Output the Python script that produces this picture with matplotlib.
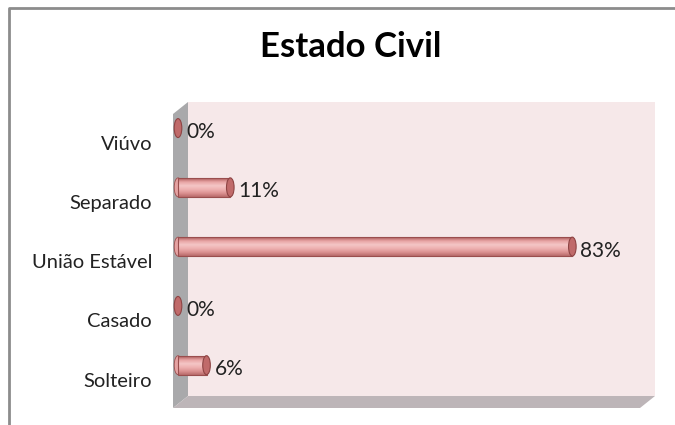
import numpy as np
import matplotlib.pyplot as plt
from matplotlib.patches import Rectangle, Ellipse, Polygon
from matplotlib.colors import LinearSegmentedColormap
from matplotlib.transforms import ScaledTranslation

plt.rcParams['font.family'] = ['Lato', 'DejaVu Sans']

categorias = ["Solteiro", "Casado", "União Estável", "Separado", "Viúvo"]
percentuais = [6, 0, 83, 11, 0]

W, H = 675, 425
fig = plt.figure(figsize=(W / 100, H / 100), dpi=100)
fig.patch.set_facecolor("white")

# background layer in pixel units for the frame and the 3D walls
bg = fig.add_axes([0, 0, 1, 1])
bg.set_xlim(0, W)
bg.set_ylim(H, 0)
bg.axis("off")

# outer chart border (runs off the right and bottom edges)
bg.plot([9, 9, W + 5], [H + 5, 8, 8], color="#8c8c8c", lw=2, solid_capstyle="butt")

wall_l, wall_r, wall_t, wall_b = 188, 655, 102, 396
dx, dy = 15, 12
bg.add_patch(Rectangle((wall_l, wall_t), wall_r - wall_l, wall_b - wall_t,
                       facecolor="#f6e8e9", edgecolor="none"))
bg.add_patch(Polygon([(wall_l - dx, wall_t + dy), (wall_l, wall_t),
                      (wall_l, wall_b), (wall_l - dx, wall_b + dy)],
                     facecolor="#a9a9ab", edgecolor="none"))
bg.add_patch(Polygon([(wall_l - dx, wall_b + dy), (wall_l, wall_b),
                      (wall_r, wall_b), (wall_r - dx, wall_b + dy)],
                     facecolor="#bdb5b8", edgecolor="none"))

bg.text(351, 47, "Estado Civil", ha="center", va="center",
        fontsize=25, fontweight="bold", color="black")

# plotting axes sits on the back wall; zero lies a little in front of it
ax = fig.add_axes([wall_l / W, 1 - wall_b / H, (wall_r - wall_l) / W, (wall_b - wall_t) / H])
ax.set_xlim(2.1, 100.4)
ax.set_ylim(-0.52, 4.44)
ax.axis("off")
ax.patch.set_alpha(0)

bar_h = 0.32
cap_w = 1.6
cyl = LinearSegmentedColormap.from_list(
    "cyl", ["#b86a6a", "#dc9292", "#eeb1b1", "#f4c6c6", "#e8a4a4", "#ad5c5c"])

for i, v in enumerate(percentuais):
    if v > 0:
        y0 = i - bar_h / 2
        img = ax.imshow(np.linspace(0, 1, 64).reshape(-1, 1), cmap=cyl, aspect="auto",
                        extent=[0, v, y0, y0 + bar_h], origin="lower", zorder=3,
                        interpolation="bilinear")
        body = Rectangle((0, y0), v, bar_h, facecolor="none",
                         edgecolor="#9a4e4e", lw=0.8, zorder=4, clip_on=False)
        ax.add_patch(body)
        img.set_clip_path(body)
        ax.add_patch(Ellipse((0, i), cap_w, bar_h, facecolor="#e5a2a2",
                             edgecolor="#9a4e4e", lw=0.6, zorder=2, clip_on=False))
    ax.add_patch(Ellipse((v, i), cap_w, bar_h, facecolor="#c06a6a",
                         edgecolor="#8e4444", lw=0.8, zorder=5, clip_on=False))
    off = ScaledTranslation(8 / 100, -4 / 100, fig.dpi_scale_trans)
    ax.text(v, i, f"{v}%", ha="left", va="center", fontsize=15,
            color="#222222", transform=ax.transData + off, zorder=6)

# category labels sit on the front plane, shifted down-left from the bars
lab_off = ScaledTranslation(0, -16 / 100, fig.dpi_scale_trans)
for i, c in enumerate(categorias):
    ax.text(-(wall_l - 152) / (wall_r - wall_l), i, c, ha="right", va="center",
            fontsize=14.5, color="#222222",
            transform=ax.get_yaxis_transform() + lab_off)

fig.savefig("out.png", dpi=100, facecolor="white")
